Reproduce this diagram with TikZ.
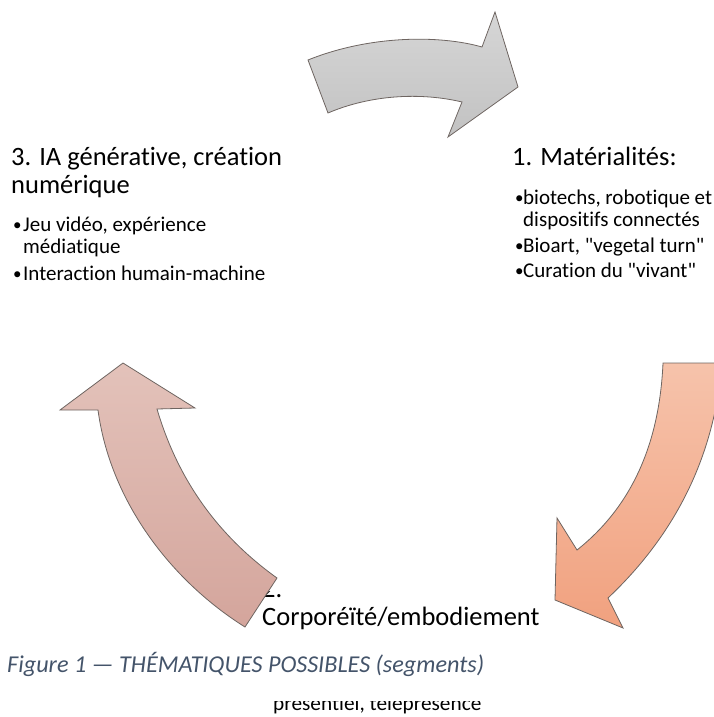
\documentclass[tikz,border=0pt]{standalone}
\usepackage{fontspec}
\setmainfont{Carlito}[Ligatures={TeXOff,NoCommon}]
\definecolor{captionblue}{HTML}{44546A}
\definecolor{grayTop}{HTML}{D6D6D6}
\definecolor{grayBot}{HTML}{C2C2C2}
\definecolor{peachTop}{HTML}{F6C3AB}
\definecolor{peachBot}{HTML}{F1A17F}
\definecolor{roseTop}{HTML}{E3C2BA}
\definecolor{roseBot}{HTML}{D4A59C}
\definecolor{edge}{HTML}{6E6561}
% bullet in a box of given width, slightly smaller than the text
\newcommand\bulmark[1]{\makebox[#1][l]{\hspace*{1pt}\raisebox{0.8pt}{\fontsize{17}{17}\selectfont •}}}
\begin{document}
\begin{tikzpicture}[x=1pt,y=-1pt,
  % multi-line nodes sit on the baseline of their last line
  heading/.style={anchor=base west, inner sep=0pt, align=left,
    font=\fontsize{26.5}{28}\selectfont},
  items/.style={anchor=base west, inner sep=0pt, align=left,
    font=\fontsize{21}{22}\selectfont},
  cyclearrow/.style={draw=edge, line width=0.8pt, line join=miter}]
\useasboundingbox (0,0) rectangle (714,717);

% --- segment 3 (left) ---
\node[heading] (ia) at (11,193) {3. IA générative, création\\numérique};
\node[items] (iaitems) at (12,280)
  {\bulmark{11pt}Jeu vidéo, expérience\\
   \hspace*{11pt}médiatique\\[5pt]
   \bulmark{11pt}Interaction humain-machine};

% --- segment 1 (right) ---
\node[heading] (mat) at (512,165) {1. Matérialités:};
\node[items] (matitems) at (514,277)
  {\bulmark{9pt}biotechs, robotique et\\
   \hspace*{9pt}dispositifs connectés\\[4pt]
   \bulmark{9pt}Bioart, "vegetal turn"\\[3pt]
   \bulmark{9pt}Curation du "vivant"};

% --- segment 2 (bottom) ---
\begin{scope}
  \clip (240,591) rectangle (320,605);
  \node[heading] (corpnum) at (262,597) {2.};
\end{scope}
\node[heading] (corp) at (262,625) {Corporéïté/embodiement};

% --- caption and trailing line ---
\node[anchor=base west, inner sep=0pt, text=captionblue,
  font=\fontsize{24.2}{26}\selectfont\itshape] (cap) at (7,672)
  {Figure 1 — THÉMATIQUES POSSIBLES (segments)};
\begin{scope}
  \clip (260,701) rectangle (500,717);
  \node[anchor=base west, inner sep=0pt, font=\fontsize{21.3}{22}\selectfont]
    (pres) at (273,710) {présentiel, téléprésence};
\end{scope}

% --- curved arrows of the cycle ---
% top: from 3 to 1
\path[cyclearrow, top color=grayTop, bottom color=grayBot]
  (308,60) .. controls (370,35) and (440,35) .. (482,47)
  -- (495,12) -- (518,87) -- (448,137) -- (462,102)
  .. controls (420,92) and (370,95) .. (328,113) -- cycle;
% right: from 1 to 2
\path[cyclearrow, top color=peachTop, bottom color=peachBot]
  (663,363) -- (722,363)
  .. controls (715,450) and (680,530) .. (608,598)
  -- (623,628) -- (555,600) -- (557,518) -- (577,550)
  .. controls (640,500) and (660,430) .. (663,363) -- cycle;
% left: from 2 to 3
\path[cyclearrow, top color=roseTop, bottom color=roseBot]
  (123,363) -- (195,408) -- (157,409)
  .. controls (175,470) and (210,530) .. (277,578)
  -- (245,627)
  .. controls (170,580) and (110,500) .. (98,410)
  -- (60,410) -- cycle;
\end{tikzpicture}
\end{document}
